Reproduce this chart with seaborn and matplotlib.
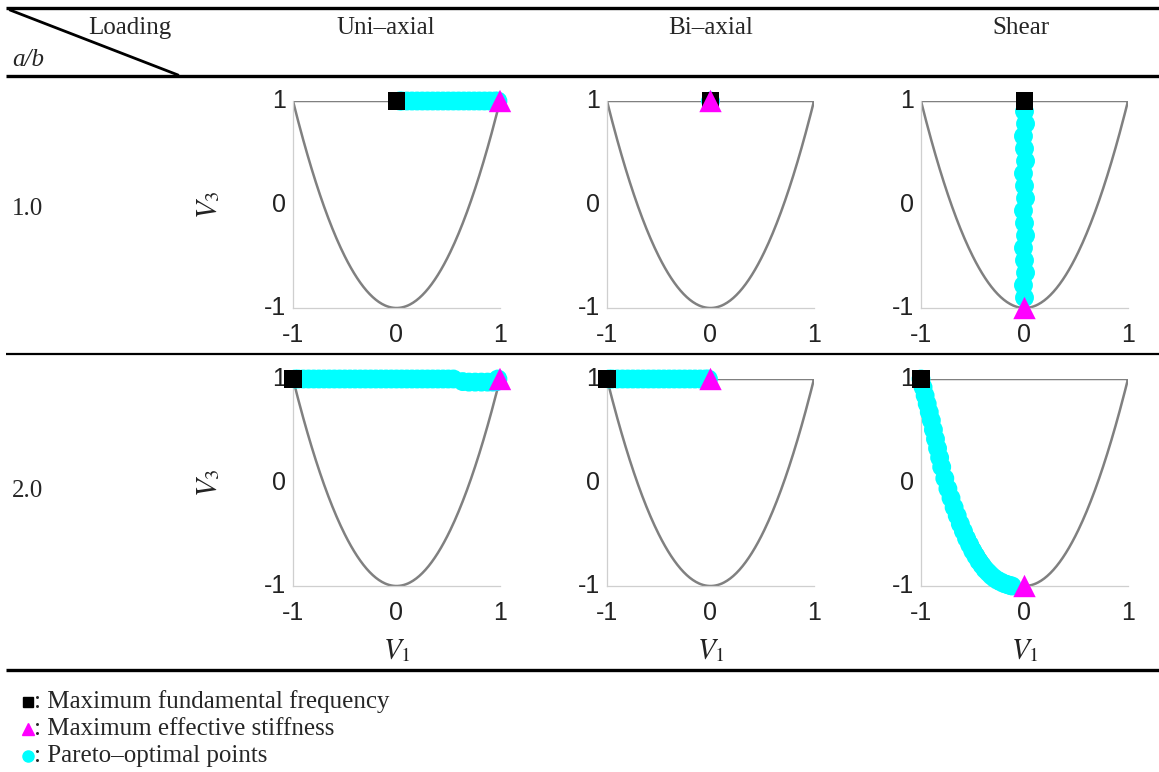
import numpy as np
import pandas as pd
import matplotlib
matplotlib.use("Agg")
import matplotlib.pyplot as plt
import seaborn as sns

# ---------------------------------------------------------------- data
loadings = ["Uni–axial", "Bi–axial", "Shear"]
aspect_ratios = ["1.0", "2.0"]
tick_values = [-1, 0, 1]

# Pareto-optimal lamination parameters (V1, V3) for each panel
pareto_uni_10_v1 = [0.03, 0.05, 0.1, 0.15, 0.2, 0.25, 0.3, 0.35, 0.4, 0.45, 0.5,
                    0.55, 0.6, 0.65, 0.7, 0.75, 0.8, 0.85, 0.9, 0.95, 0.98]
pareto_uni_10_v3 = [1.0] * 21

pareto_bi_10_v1 = [0.0]
pareto_bi_10_v3 = [1.0]

pareto_shear_10_v1 = [0.0, 0.01, -0.01, 0.0, 0.01, -0.01, 0.0, 0.01, -0.01,
                      0.0, 0.01, -0.01, 0.0, 0.01, -0.01, 0.0]
pareto_shear_10_v3 = [0.9, 0.78, 0.66, 0.54, 0.42, 0.3, 0.18, 0.06, -0.06,
                      -0.18, -0.3, -0.42, -0.54, -0.66, -0.78, -0.9]

pareto_uni_20_v1 = [-0.98, -0.95, -0.9, -0.85, -0.8, -0.75, -0.7, -0.65, -0.6,
                    -0.55, -0.5, -0.45, -0.4, -0.35, -0.3, -0.25, -0.2, -0.15,
                    -0.1, -0.05, 0.0, 0.05, 0.1, 0.15, 0.2, 0.25, 0.3, 0.35,
                    0.4, 0.45, 0.5, 0.55, 0.64, 0.7, 0.76, 0.82, 0.88, 0.93,
                    0.97, 0.98]
pareto_uni_20_v3 = [1.0] * 32 + [0.975, 0.97, 0.97, 0.97, 0.97, 0.97, 0.975, 1.0]

pareto_bi_20_v1 = [-0.98, -0.95, -0.9, -0.85, -0.8, -0.75, -0.7, -0.65, -0.6,
                   -0.55, -0.5, -0.45, -0.4, -0.35, -0.3, -0.25, -0.2, -0.15,
                   -0.1, -0.05, -0.02]
pareto_bi_20_v3 = [1.0] * 21

pareto_shear_20_v1 = [-1.0, -0.98, -0.96, -0.94, -0.92, -0.9, -0.88, -0.86,
                      -0.84, -0.82, -0.8, -0.77, -0.74, -0.71, -0.68, -0.65,
                      -0.62, -0.59, -0.56, -0.53, -0.5, -0.47, -0.44, -0.41,
                      -0.38, -0.35, -0.32, -0.29, -0.26, -0.23, -0.2, -0.17,
                      -0.14, -0.12]
pareto_shear_20_v3 = [1.0, 0.92, 0.84, 0.76, 0.68, 0.6, 0.51, 0.42, 0.33, 0.24,
                      0.15, 0.04, -0.06, -0.15, -0.24, -0.32, -0.4, -0.47,
                      -0.54, -0.6, -0.66, -0.71, -0.76, -0.8, -0.84, -0.87,
                      -0.9, -0.925, -0.945, -0.96, -0.975, -0.985, -0.995, -1.0]

# Single-objective optima: maximum fundamental frequency / maximum stiffness
max_freq_v1 = [[0.0, 0.0, 0.0], [-1.0, -1.0, -1.0]]
max_freq_v3 = [[1.0, 1.0, 1.0], [1.0, 1.0, 1.0]]
max_stiff_v1 = [[1.0, 0.0, 0.0], [1.0, 0.0, 0.0]]
max_stiff_v3 = [[1.0, 1.0, -1.0], [1.0, 1.0, -1.0]]

pareto_sets = [
    [(pareto_uni_10_v1, pareto_uni_10_v3), (pareto_bi_10_v1, pareto_bi_10_v3),
     (pareto_shear_10_v1, pareto_shear_10_v3)],
    [(pareto_uni_20_v1, pareto_uni_20_v3), (pareto_bi_20_v1, pareto_bi_20_v3),
     (pareto_shear_20_v1, pareto_shear_20_v3)],
]

legend_labels = [": Maximum fundamental frequency",
                 ": Maximum effective stiffness",
                 ": Pareto–optimal points"]

# Feasible lamination-parameter domain: V3 >= 2*V1^2 - 1, V3 <= 1
v1_edge = np.linspace(-1.0, 1.0, 201)
domain = pd.DataFrame({
    "V1": np.concatenate([[1.0, -1.0], v1_edge]),
    "V3": np.concatenate([[1.0, 1.0], 2.0 * v1_edge ** 2 - 1.0]),
})

# --------------------------------------------------------------- style
sns.set_theme(style="white")
plt.rcParams["font.family"] = ["Liberation Sans", "DejaVu Sans"]
plt.rcParams["mathtext.fontset"] = "stix"

W, H = 1159, 772
fig = plt.figure(figsize=(W / 100, H / 100), dpi=100)

SERIF = ["Liberation Serif", "DejaVu Serif"]
CYAN = "#00ffff"
MAGENTA = "#ff00ff"
BOUND = "#808080"
SPINE = "#cfcfcf"
TXT = 18

# overlay in pixel units for table rules and captions
frame = fig.add_axes([0, 0, 1, 1], zorder=-1)
frame.set_xlim(0, W)
frame.set_ylim(H, 0)
frame.axis("off")

for y, lw in [(8, 2.4), (76, 2.4), (354, 1.6), (670, 2.4)]:
    frame.plot([6, W], [y, y], color="black", lw=lw, solid_capstyle="butt")
frame.plot([10, 178], [10, 75], color="black", lw=2.0)

frame.text(88, 28, "Loading", family=SERIF, fontsize=TXT, va="center", ha="left")
frame.text(12, 60, "a/b", family=SERIF, fontsize=TXT, va="center", ha="left",
           style="italic")
for cx, name in zip([386, 711, 1021], loadings):
    frame.text(cx, 28, name, family=SERIF, fontsize=TXT, va="center", ha="center")
for cy, name in zip([209, 491], aspect_ratios):
    frame.text(12, cy, name, family=SERIF, fontsize=TXT, va="center", ha="left")

# legend captions
legend_y = [702, 729, 756]
legend_marks = [("s", "black", 7.5), ("^", MAGENTA, 9), ("o", CYAN, 8)]
for y, (m, c, s), text in zip(legend_y, legend_marks, legend_labels):
    frame.plot([28], [y], marker=m, color=c, markersize=s, ls="none")
    frame.text(34, y, text, family=SERIF, fontsize=TXT, va="center", ha="left")

# ---------------------------------------------------------------- panels
col_left = [293, 607, 921]
row_top = [101, 379]
side = 207

for r in range(2):
    for c in range(3):
        ax = fig.add_axes([col_left[c] / W, 1 - (row_top[r] + side) / H,
                           side / W, side / H])
        sns.lineplot(data=domain, x="V1", y="V3", sort=False, estimator=None,
                     color=BOUND, lw=1.8, ax=ax, zorder=2)
        pv1, pv3 = pareto_sets[r][c]
        sns.scatterplot(x=pv1, y=pv3, color=CYAN, s=185, marker="o",
                        edgecolor="none", linewidth=0, ax=ax, zorder=3,
                        clip_on=False)
        sns.scatterplot(x=[max_freq_v1[r][c]], y=[max_freq_v3[r][c]],
                        color="black", s=150, marker="s", edgecolor="none",
                        linewidth=0, ax=ax, zorder=5, clip_on=False)
        sns.scatterplot(x=[max_stiff_v1[r][c]], y=[max_stiff_v3[r][c]],
                        color=MAGENTA, s=260, marker="^", edgecolor="none",
                        linewidth=0, ax=ax, zorder=6, clip_on=False)

        ax.set_xlim(-1, 1)
        ax.set_ylim(-1, 1)
        ax.set_xticks(tick_values)
        ax.set_yticks(tick_values)
        ax.set_xticklabels([str(t) for t in tick_values])
        ax.set_yticklabels([str(t) for t in tick_values])
        ax.tick_params(axis="both", which="major", direction="in", length=3,
                       width=0.8, color=SPINE, labelsize=18, labelcolor="#222222")
        ax.tick_params(axis="x", pad=11)
        ax.tick_params(axis="y", pad=5)
        for lab in ax.get_yticklabels():
            lab.set_verticalalignment("center")
        for side_name in ["top", "right"]:
            ax.spines[side_name].set_visible(False)
        for side_name in ["left", "bottom"]:
            ax.spines[side_name].set_color(SPINE)
            ax.spines[side_name].set_linewidth(0.9)
        ax.set_facecolor("none")
        ax.set_xlabel("$V_1$" if r == 1 else "", fontsize=21, labelpad=8,
                      color="#222222")
        ax.set_ylabel("$V_3$" if c == 0 else "", fontsize=21, labelpad=30,
                      color="#222222")
        if ax.get_legend() is not None:
            ax.get_legend().remove()

fig.savefig("out.png", dpi=100)
